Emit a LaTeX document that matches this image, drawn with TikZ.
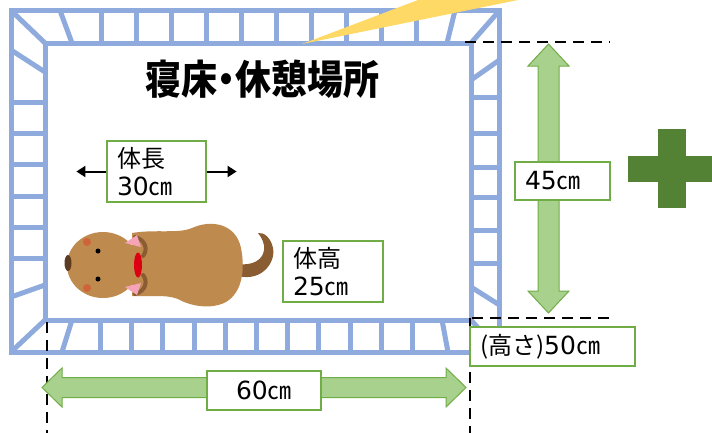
\documentclass[tikz,border=0pt]{standalone}
\usepackage{fontspec}
\setmainfont{Noto Sans CJK JP}
\newfontfamily\headfont[RawFeature=+palt]{Noto Sans CJK JP}
\newfontfamily\numfont{DejaVu Sans}
\usepackage{tikz}
\usetikzlibrary{positioning,calc,arrows.meta}

\definecolor{railblue}{RGB}{143,170,220}
\definecolor{boxgreen}{RGB}{112,173,71}
\definecolor{arrowgreen}{RGB}{169,209,142}
\definecolor{crossgreen}{RGB}{84,130,53}
\definecolor{callout}{RGB}{255,217,102}
\definecolor{fur}{RGB}{190,138,78}
\definecolor{darkfur}{RGB}{138,92,50}
\definecolor{nosebrown}{RGB}{92,60,32}
\definecolor{collarred}{RGB}{222,0,18}
\definecolor{earpink}{RGB}{244,164,182}

\newcommand{\titlesize}{\headfont\bfseries\fontsize{36}{40}\selectfont}
\newcommand{\labelsize}{\fontsize{24}{28}\selectfont}
\newcommand{\cm}[1]{{\numfont\fontsize{25}{28}\selectfont #1}㎝}

\tikzstyle{rail} = [draw=railblue, line width=5pt]
\tikzstyle{sizebox} = [rectangle, draw=boxgreen, line width=1.2pt, fill=white, %
   inner xsep=10pt, inner ysep=3pt, align=left, font=\labelsize]
\tikzstyle{dimarrow} = [draw=boxgreen, line width=1pt, fill=arrowgreen]
\tikzstyle{extline} = [draw, line width=2.6pt, dash pattern=on 11pt off 7pt]
\tikzstyle{line} = [draw, line width=2pt, -{Triangle[length=9pt,width=11pt]}]

\begin{document}
\begin{tikzpicture}[x=1pt,y=-1pt]
   \useasboundingbox (0,0) rectangle (712,432);

   % PEN FRAME %%%%%%%%%%%%%%%%%%%%%%%%%%%%%%%%%%%%%%%%%%%%%%%%%%%%%
   \draw[rail] (11,10.5) rectangle (499.5,352);
   \draw[rail] (45,43) rectangle (471,320);
   % corners
   \draw[rail] (11,10.5) -- (45,43);
   \draw[rail] (499.5,10.5) -- (471,43);
   \draw[rail] (11,352) -- (45,320);
   \draw[rail] (499.5,352) -- (471,320);
   % top rail
   \draw[rail] (60,10.5) -- (72,43);
   \draw[rail] (455,10.5) -- (447,43);
   \foreach \x in {101,136,171,206,241,276,311,346,381,416}
      \draw[rail] (\x,10.5) -- (\x,43);
   % bottom rail
   \draw[rail] (72,320) -- (62,352);
   \draw[rail] (442,320) -- (448,352);
   \foreach \x in {100,131,162,194,225,256,287,318,350,381,412}
      \draw[rail] (\x,320) -- (\x,352);
   % left rail
   \draw[rail] (11,50) -- (45,72);
   \draw[rail] (11,297) -- (45,285);
   \foreach \y in {102,133,164,196,227,258}
      \draw[rail] (11,\y) -- (45,\y);
   % right rail
   \draw[rail] (471,80) -- (499.5,60);
   \draw[rail] (471,287) -- (499.5,305);
   \foreach \y in {97,133,167,197,230,263}
      \draw[rail] (471,\y) -- (499.5,\y);

   % callout tail
   \fill[callout] (302,44) -- (418,0) -- (518,0) -- cycle;

   \node[font=\titlesize, yscale=1.12, transform shape] (title) at (262,79) {寝床・休憩場所};

   % DIMENSIONS %%%%%%%%%%%%%%%%%%%%%%%%%%%%%%%%%%%%%%%%%%%%%%%%%%%%
   \coordinate (wl) at (42,387.5);
   \coordinate (wr) at (466,387.5);
   \coordinate (ht) at (548.5,44);
   \coordinate (hb) at (548.5,313);

   \path[extline] (465,42) -- (610,42);
   \path[extline] (472,318) -- (615,318);
   \path[extline] (47,322) -- (47,440);
   \path[extline] (470,318) -- (470,440);

   \draw[dimarrow] (wl) -- ($(wl)+(20,-19.5)$) -- ($(wl)+(20,-10)$)
      -- ($(wr)+(-20,-10)$) -- ($(wr)+(-20,-19.5)$) -- (wr)
      -- ($(wr)+(-20,19.5)$) -- ($(wr)+(-20,10)$)
      -- ($(wl)+(20,10)$) -- ($(wl)+(20,19.5)$) -- cycle;
   \draw[dimarrow] (ht) -- ($(ht)+(20.5,22)$) -- ($(ht)+(10.5,22)$)
      -- ($(hb)+(10.5,-22)$) -- ($(hb)+(20.5,-22)$) -- (hb)
      -- ($(hb)+(-20.5,-22)$) -- ($(hb)+(-10.5,-22)$)
      -- ($(ht)+(-10.5,22)$) -- ($(ht)+(-20.5,22)$) -- cycle;

   \node[sizebox, text width=75pt, minimum height=38pt] (depth) at (562.5,181) {\cm{45}};
   \node[sizebox, text width=94pt, minimum height=39pt, align=center] (width) at (264,390.5) {\cm{60}};
   \node[sizebox, text width=145pt, minimum height=39pt] (height) at (552.5,346.5) {(高さ)\cm{50}};

   % DOG %%%%%%%%%%%%%%%%%%%%%%%%%%%%%%%%%%%%%%%%%%%%%%%%%%%%%%%%%%%
   % tail
   \fill[darkfur] (238,276) .. controls (262,282) and (276,262) .. (273,248)
      .. controls (271,238) and (264,232) .. (258,233)
      .. controls (262,238) and (265,244) .. (264,250)
      .. controls (263,260) and (252,266) .. (238,264) -- cycle;
   % body
   \fill[fur] (132,233) .. controls (155,229) and (178,234) .. (192,228)
      .. controls (212,219) and (236,224) .. (241,248)
      .. controls (245,268) and (243,292) .. (226,302)
      .. controls (211,310) and (190,306) .. (178,299)
      .. controls (165,294) and (150,297) .. (132,296) -- cycle;
   % neck
   \draw[darkfur, line width=4pt, line cap=round] (135,237) .. controls (146,240) and (148,250) .. (143,256);
   \draw[darkfur, line width=4pt, line cap=round] (135,294) .. controls (146,291) and (148,281) .. (143,275);
   % head
   \fill[fur] (103,265) ellipse [x radius=36pt, y radius=33pt];
   \fill[nosebrown] (68,263) ellipse [x radius=3.5pt, y radius=8pt];
   \fill[red!60!fur, opacity=0.45] (87,242) circle [radius=4pt];
   \fill[red!60!fur, opacity=0.45] (87,288) circle [radius=4pt];
   \fill (98,251) circle [radius=2.5pt];
   \fill (98,279) circle [radius=2.5pt];
   \fill[collarred] (138,265) ellipse [x radius=4pt, y radius=12.5pt];
   \fill[earpink] (125,243) -- (137,235) -- (141,247) -- cycle;
   \fill[earpink] (125,287) -- (137,295) -- (141,283) -- cycle;

   % DOG SIZE %%%%%%%%%%%%%%%%%%%%%%%%%%%%%%%%%%%%%%%%%%%%%%%%%%%%%%
   \node[sizebox, text width=79pt, minimum height=61pt] (len) at (156.5,171.5) {体長\\\cm{30}};
   \node[sizebox, text width=80pt, minimum height=61pt] (tall) at (333,271.5) {体高\\\cm{25}};

   \coordinate[left=30pt of len] (lenL);
   \coordinate[right=30pt of len] (lenR);
   \path[line] (len.west) -- (lenL);
   \path[line] (len.east) -- (lenR);

   % plus sign
   \fill[crossgreen] (628,156) rectangle (716,182);
   \fill[crossgreen] (658,129) rectangle (686,208);
\end{tikzpicture}
\end{document}
